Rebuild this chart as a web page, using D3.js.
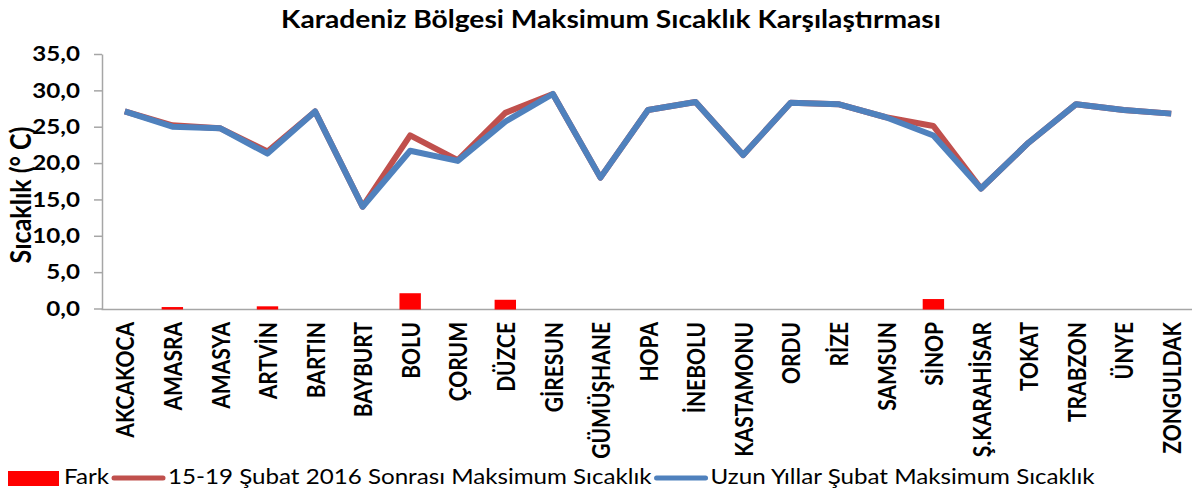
<!DOCTYPE html>
<html>
<head>
<meta charset="utf-8">
<script src="https://cdn.jsdelivr.net/npm/d3@7"></script>
<style>
  body { margin: 0; background: #fff; }
  text { font-family: Lato, "Open Sans", sans-serif; fill: #000; }
</style>
</head>
<body>
<svg id="chart" width="1192" height="490"></svg>
<script>
const categories = ["AKCAKOCA", "AMASRA", "AMASYA", "ARTVİN", "BARTIN", "BAYBURT", "BOLU", "ÇORUM",
  "DÜZCE", "GİRESUN", "GÜMÜŞHANE", "HOPA", "İNEBOLU", "KASTAMONU", "ORDU", "RİZE", "SAMSUN",
  "SİNOP", "Ş.KARAHİSAR", "TOKAT", "TRABZON", "ÜNYE", "ZONGULDAK"];
const uzunYillar = [27.1, 25.0, 24.8, 21.3, 27.1, 14.0, 21.7, 20.3, 25.7, 29.5, 18.0, 27.3,
  28.4, 21.1, 28.3, 28.1, 26.3, 23.8, 16.5, 22.8, 28.1, 27.3, 26.8];
const sonrasi = [27.1, 25.2, 24.8, 21.6, 27.1, 14.0, 23.8, 20.4, 26.9, 29.5, 18.0, 27.3,
  28.4, 21.1, 28.3, 28.1, 26.3, 25.1, 16.5, 22.8, 28.1, 27.3, 26.8];
const fark = [0, 0.2, 0, 0.3, 0, 0, 2.1, 0, 1.2, 0, 0, 0,
  0, 0, 0, 0, 0, 1.3, 0, 0, 0, 0, 0];
const yTicks = [0, 5, 10, 15, 20, 25, 30, 35];
const titleText = "Karadeniz Bölgesi Maksimum Sıcaklık Karşılaştırması";
const yTitle = "Sıcaklık (° C)";
const seriesNames = ["Fark", "15-19 Şubat 2016 Sonrası Maksimum Sıcaklık", "Uzun Yıllar Şubat Maksimum Sıcaklık"];

const red = "#ff0000", brick = "#c0504d", blue = "#4f81bd", axisGrey = "#a6a6a6";
const SX = 1.15; // the reference text looks stretched sideways

const svg = d3.select("#chart");

const xScale = d3.scaleBand().domain(categories).range([101, 1195]);
const yScale = d3.scaleLinear().domain([0, 35]).range([308.5, 54]);
const cx = (d) => xScale(d) + xScale.bandwidth() / 2;

const stretch = (sel) =>
  sel.each(function () {
    const w = this.getComputedTextLength();
    d3.select(this).attr("textLength", w * SX).attr("lengthAdjust", "spacingAndGlyphs");
  });

// title
svg.append("text")
  .attr("x", 611).attr("y", 28)
  .attr("text-anchor", "middle")
  .style("font-size", "24.5px").style("font-weight", 700)
  .text(titleText)
  .call(stretch);

// y axis
const leftAxis = d3.axisLeft(yScale)
  .tickValues(yTicks)
  .tickSize(8).tickSizeOuter(0).tickPadding(14)
  .tickFormat((d) => d3.format(".1f")(d).replace(".", ","));
const gy = svg.append("g").attr("class", "axis-y").attr("transform", "translate(102,0)").call(leftAxis);
gy.selectAll("path, line").attr("stroke", axisGrey).attr("stroke-width", 1.5);
gy.selectAll("text").style("font-size", "21px").style("font-weight", 700).attr("fill", "#000").call(stretch);

// x axis
const bottomAxis = d3.axisBottom(xScale).tickSize(0).tickSizeOuter(0);
const gx = svg.append("g").attr("class", "axis-x").attr("transform", "translate(0,309)").call(bottomAxis);
gx.select(".domain").attr("stroke", axisGrey).attr("stroke-width", 1.5);
const labelSize = 21;
gx.selectAll("text")
  .attr("x", null).attr("y", null).attr("dy", null)
  .attr("text-anchor", "end")
  .attr("transform", `translate(${labelSize * 0.36 * SX + 1},13) rotate(-90) scale(1,${SX})`)
  .style("font-size", `${labelSize}px`).style("font-weight", 700).attr("fill", "#000");

// y title
svg.append("text")
  .attr("transform", `translate(${21 + 9 * SX},195) rotate(-90) scale(1,${SX})`)
  .attr("text-anchor", "middle")
  .style("font-size", "25px").style("font-weight", 700)
  .text(yTitle);

// fark bars, only where there is a difference
const barW = xScale.bandwidth() * 0.45;
svg.append("g").selectAll("rect")
  .data(categories.filter((d, i) => fark[i] > 0))
  .join("rect")
  .attr("x", (d) => cx(d) - barW / 2)
  .attr("width", barW)
  .attr("y", (d) => yScale(fark[categories.indexOf(d)]))
  .attr("height", (d) => yScale(0) - yScale(fark[categories.indexOf(d)]) + 1)
  .attr("fill", red);

// lines
const lineGen = (vals) => d3.line().x((d) => cx(d)).y((d, i) => yScale(vals[i]))(categories);
svg.append("path").attr("d", lineGen(sonrasi))
  .attr("fill", "none").attr("stroke", brick).attr("stroke-width", 6).attr("stroke-linejoin", "round");
svg.append("path").attr("d", lineGen(uzunYillar))
  .attr("fill", "none").attr("stroke", blue).attr("stroke-width", 6).attr("stroke-linejoin", "round");

// legend
const legend = svg.append("g").attr("class", "legend");
let lx = 8;
const legendY = 484;
seriesNames.forEach((name, i) => {
  if (i === 0) {
    legend.append("rect").attr("x", lx).attr("y", 471).attr("width", 51).attr("height", 15).attr("fill", red);
  } else {
    legend.append("line")
      .attr("x1", lx + 2).attr("x2", lx + 51).attr("y1", 478).attr("y2", 478)
      .attr("stroke", i === 1 ? brick : blue).attr("stroke-width", 5).attr("stroke-linecap", "round");
  }
  lx += 56;
  const t = legend.append("text").attr("x", lx).attr("y", legendY)
    .style("font-size", "21px").text(name).call(stretch);
  lx += +t.attr("textLength") + 3;
});
</script>
</body>
</html>
